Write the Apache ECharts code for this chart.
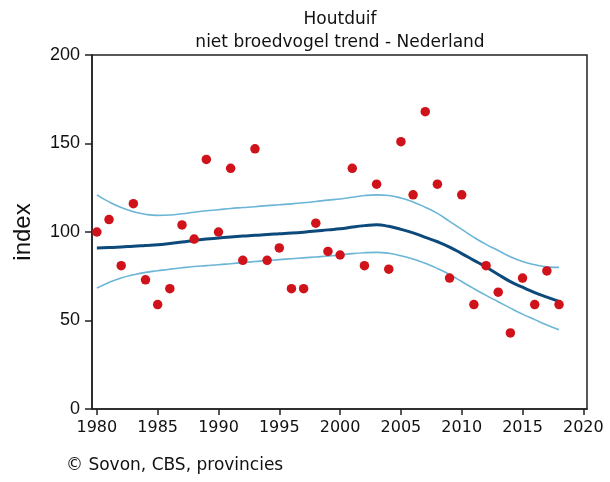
<!DOCTYPE html>
<html>
<head>
<meta charset="utf-8">
<script src="https://cdn.jsdelivr.net/npm/echarts@6/dist/echarts.min.js"></script>
<style>
  html, body { margin: 0; padding: 0; background: #fff; }
  #chart { width: 610px; height: 482px; }
</style>
</head>
<body>
<div id="chart"></div>
<script>
// jaarlijkse indexen (punten)
const years = [1980, 1981, 1982, 1983, 1984, 1985, 1986, 1987, 1988, 1989,
  1990, 1991, 1992, 1993, 1994, 1995, 1996, 1997, 1998, 1999,
  2000, 2001, 2002, 2003, 2004, 2005, 2006, 2007, 2008, 2009,
  2010, 2011, 2012, 2013, 2014, 2015, 2016, 2017, 2018]
const indexValues = [100, 107, 81, 116, 73, 59, 68, 104, 96, 141,
  100, 136, 84, 147, 84, 91, 68, 68, 105, 89,
  87, 136, 81, 127, 79, 151, 121, 168, 127, 74,
  121, 59, 81, 66, 43, 74, 59, 78, 59]
// trendlijn met betrouwbaarheidsband
const trend = [91, 91.2, 91.5, 92, 92.4, 92.8, 93.5, 94.3, 95.2, 96,
  96.6, 97.2, 97.7, 98.1, 98.6, 99, 99.4, 99.9, 100.5, 101.2,
  101.8, 102.8, 103.6, 104.1, 103.2, 101.5, 99.5, 97, 94.5, 91.5,
  87.8, 84, 80.2, 76, 72, 68.8, 65.8, 63.2, 60.8]
const upper = [121, 117, 113.8, 111.5, 110, 109.4, 109.6, 110.3, 111.2, 112,
  112.6, 113.3, 113.8, 114.3, 114.9, 115.4, 115.9, 116.5, 117.2, 118,
  118.6, 119.6, 120.6, 121, 120.6, 119.2, 117, 114, 110.5, 106,
  101.5, 97, 93, 89.5, 86, 83.3, 81.5, 80.3, 80]
const lower = [68.3, 71.5, 74, 75.8, 77.2, 78.1, 79, 79.8, 80.5, 81,
  81.5, 82.1, 82.7, 83.3, 83.9, 84.4, 84.9, 85.4, 85.9, 86.4,
  87, 87.8, 88.3, 88.5, 88, 86.6, 84.7, 82.3, 79.4, 76,
  72, 68, 64.2, 60.6, 57, 53.6, 50.5, 47.5, 44.8]
const xTicks = [1980, 1985, 1990, 1995, 2000, 2005, 2010, 2015, 2020]

const pairs = (ys) => years.map((y, i) => [y, ys[i]])

const chart = echarts.init(document.getElementById('chart'), null, { renderer: 'canvas' })
chart.setOption({
  animation: false,
  backgroundColor: '#fff',
  title: {
    text: 'Houtduif\nniet broedvogel trend - Nederland',
    left: 335, top: 3, textAlign: 'center',
    textStyle: { fontFamily: 'DejaVu Sans', fontSize: 17, fontWeight: 'normal', color: '#111', lineHeight: 23 }
  },
  graphic: [{
    type: 'text', left: 66, top: 457,
    style: { text: '© Sovon, CBS, provincies', font: '17px "DejaVu Sans"', fill: '#111' }
  }],
  grid: { left: 92, right: 23, top: 55, bottom: 73, show: true, borderColor: '#222', borderWidth: 1.5, backgroundColor: '#fff' },
  xAxis: {
    type: 'value', min: 1979.6, max: 2020.3,
    axisLine: { show: true, lineStyle: { color: '#222', width: 1.5 } },
    axisTick: { show: true, inside: false, length: 6, customValues: xTicks, lineStyle: { color: '#222', width: 1.5 } },
    axisLabel: { customValues: xTicks, formatter: (v) => String(v), margin: 11, color: '#111', fontFamily: 'DejaVu Sans', fontSize: 16 },
    splitLine: { show: false }
  },
  yAxis: {
    type: 'value', min: 0, max: 200, interval: 50,
    name: 'index', nameLocation: 'middle', nameGap: 57, nameRotate: 90,
    nameTextStyle: { fontFamily: 'Liberation Sans', fontSize: 24, color: '#111' },
    axisLine: { show: true, lineStyle: { color: '#222', width: 1.5 } },
    axisTick: { show: true, inside: false, length: 7, lineStyle: { color: '#222', width: 1.5 } },
    axisLabel: { margin: 12, color: '#111', fontFamily: 'Liberation Sans', fontSize: 18 },
    splitLine: { show: false }
  },
  series: [
    { type: 'line', data: pairs(upper), smooth: true, symbol: 'none', lineStyle: { color: '#6bb5d6', width: 1.6 }, z: 2 },
    { type: 'line', data: pairs(lower), smooth: true, symbol: 'none', lineStyle: { color: '#6bb5d6', width: 1.6 }, z: 2 },
    { type: 'line', data: pairs(trend), smooth: true, symbol: 'none', lineStyle: { color: '#0d4a7c', width: 3 }, z: 3 },
    { type: 'scatter', data: pairs(indexValues), symbol: 'circle', symbolSize: 9.5, itemStyle: { color: '#d0131a', opacity: 1 }, z: 4 }
  ]
})
</script>
</body>
</html>
